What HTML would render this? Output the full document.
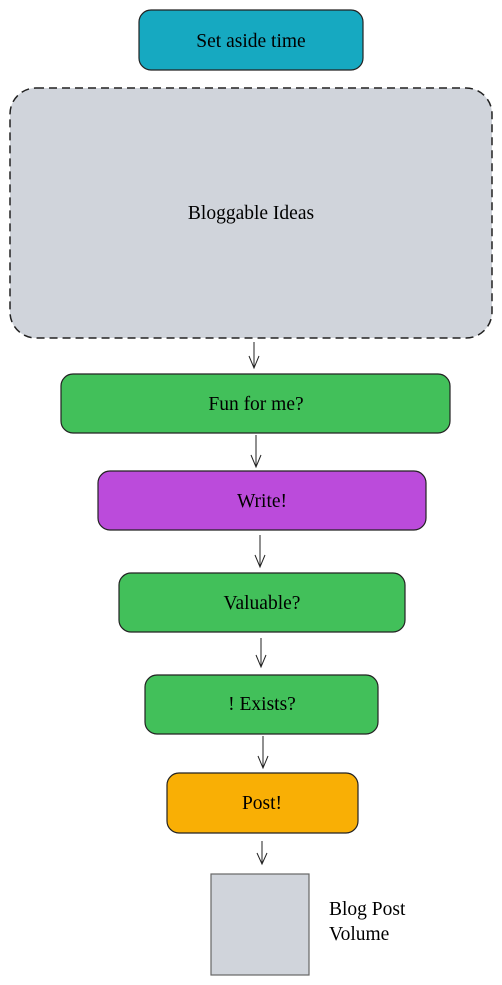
<!DOCTYPE html>
<html><head><meta charset="utf-8"><style>
html,body{margin:0;padding:0;background:#fff;width:502px;height:985px;overflow:hidden}
svg{display:block}
text{font-family:"Liberation Serif",serif;font-size:19.5px;fill:#000}
</style></head><body>
<svg width="502" height="985" viewBox="0 0 502 985">
<g stroke="#222" stroke-width="1.2">
<rect x="139" y="10" width="224" height="60" rx="12" fill="#16a9c1"/>
<rect x="10" y="88" width="482" height="250" rx="26" fill="#d0d4db" stroke-dasharray="8,5" stroke-width="1.5"/>
<rect x="61" y="374" width="389" height="59" rx="12" fill="#42c05a"/>
<rect x="98" y="471" width="328" height="59" rx="12" fill="#bb4bdb"/>
<rect x="119" y="573" width="286" height="59" rx="12" fill="#42c05a"/>
<rect x="145" y="675" width="233" height="59" rx="12" fill="#42c05a"/>
<rect x="167" y="773" width="191" height="60" rx="12" fill="#f9af05"/>
<rect x="211" y="874" width="98" height="101" fill="#d0d4db" stroke="#666"/>
</g>
<g stroke="#222" stroke-width="1" fill="none">
<path d="M254 342V368M249 356L254 368L259 356"/>
<path d="M256 435V467M251 455L256 467L261 455"/>
<path d="M260 535V567M255 555L260 567L265 555"/>
<path d="M261 638V667M256 655L261 667L266 655"/>
<path d="M263 736V768M258 756L263 768L268 756"/>
<path d="M262 841V864M257 853L262 864L267 853"/>
</g>
<g text-anchor="middle">
<text x="251" y="47">Set aside time</text>
<text x="251" y="219">Bloggable Ideas</text>
<text x="256" y="410">Fun for me?</text>
<text x="262" y="507">Write!</text>
<text x="262" y="609">Valuable?</text>
<text x="262" y="710">! Exists?</text>
<text x="262" y="809">Post!</text>
</g>
<text x="329" y="915">Blog Post</text>
<text x="329" y="940">Volume</text>
</svg>
</body></html>
